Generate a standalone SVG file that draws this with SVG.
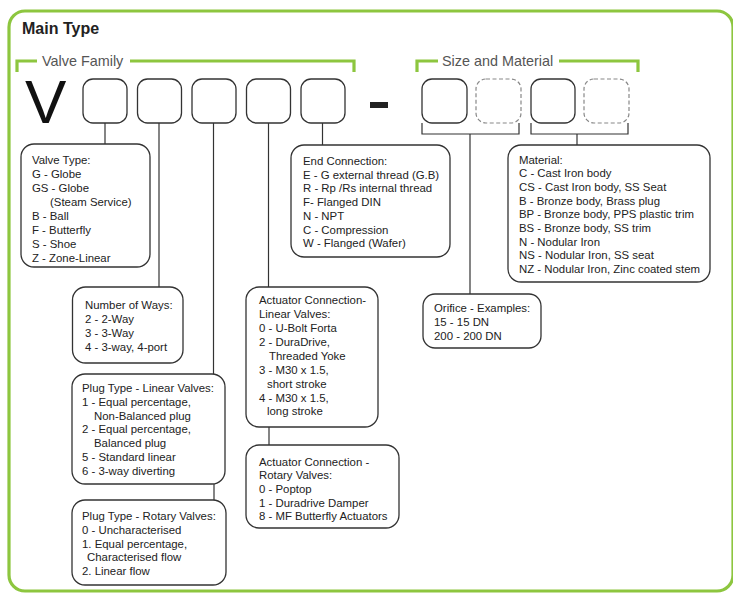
<svg xmlns="http://www.w3.org/2000/svg" width="733" height="594" viewBox="0 0 733 594">
<style>
.frame{fill:none;stroke:#8DC63F;stroke-width:3.2}
.gl{fill:none;stroke:#8DC63F;stroke-width:3.2}
.slot{fill:#fff;stroke:#333;stroke-width:1.3}
.dash{fill:#fff;stroke:#888;stroke-width:1.2;stroke-dasharray:4 2.5}
.box{fill:#fff;stroke:#333;stroke-width:1.3}
.ln{fill:none;stroke:#333;stroke-width:1.2}
text{font-family:"Liberation Sans",Arial,sans-serif;fill:#222}
.t{font-size:11.4px}
.fam{font-size:14.4px;fill:#555}
</style>
<rect class="frame" x="9" y="11" width="724" height="580" rx="16"/>
<text x="22" y="34" style="font-size:16px;font-weight:bold">Main Type</text>
<g id="valve-family-label">
<polyline class="gl" points="17,72 17,61 37,61"/>
<text class="fam" x="42" y="66">Valve Family</text>
<polyline class="gl" points="130,61 354,61 354,72"/>
</g>
<g id="size-material-label">
<polyline class="gl" points="417,72 417,61 438,61"/>
<text class="fam" x="442" y="66">Size and Material</text>
<polyline class="gl" points="559,61 638,61 638,72"/>
</g>
<text x="25" y="123" style="font-size:62px;fill:#111">V</text>
<rect x="370" y="102" width="18" height="6" fill="#222"/>
<g id="slots">
<rect id="s1" class="slot" x="83" y="79" width="44" height="44" rx="10"/>
<rect id="s2" class="slot" x="137.5" y="79" width="44" height="44" rx="10"/>
<rect id="s3" class="slot" x="192" y="79" width="44" height="44" rx="10"/>
<rect id="s4" class="slot" x="246.5" y="79" width="44" height="44" rx="10"/>
<rect id="s5" class="slot" x="301" y="79" width="44" height="44" rx="10"/>
<rect id="s6" class="slot" x="422" y="79" width="45" height="44" rx="10"/>
<rect id="s7" class="dash" x="476" y="79" width="45" height="44" rx="10"/>
<rect id="s8" class="slot" x="531" y="79" width="44" height="44" rx="10"/>
<rect id="s9" class="dash" x="584" y="79" width="45" height="44" rx="10"/>
</g>
<g id="connectors">
<line class="ln" x1="105" y1="123" x2="105" y2="144"/>
<line class="ln" x1="159" y1="123" x2="159" y2="287"/>
<line class="ln" x1="213.5" y1="123" x2="213.5" y2="374"/>
<line class="ln" x1="268.5" y1="123" x2="268.5" y2="287"/>
<line class="ln" x1="322.5" y1="123" x2="322.5" y2="145"/>
<line class="ln" x1="269" y1="427" x2="269" y2="445"/>
<line class="ln" x1="214" y1="484" x2="214" y2="500"/>
<polyline class="ln" points="422,123 422,134 519,134 519,123"/>
<polyline class="ln" points="531,123 531,134 628,134 628,123"/>
<line class="ln" x1="470" y1="134" x2="470" y2="294"/>
<line class="ln" x1="577" y1="134" x2="577" y2="145"/>
</g>
<g id="valve-type">
<rect class="box" x="21" y="144" width="129" height="123" rx="13"/>
<text class="t" x="32"><tspan x="32" y="164">Valve Type:</tspan><tspan x="32" y="178">G - Globe</tspan><tspan x="32" y="192">GS - Globe</tspan><tspan x="50" y="206">(Steam Service)</tspan><tspan x="32" y="220">B - Ball</tspan><tspan x="32" y="234">F - Butterfly</tspan><tspan x="32" y="248">S - Shoe</tspan><tspan x="32" y="262">Z - Zone-Linear</tspan></text>
</g>
<g id="end-connection">
<rect class="box" x="291" y="145" width="159" height="112" rx="13"/>
<text class="t"><tspan x="303" y="165">End Connection:</tspan><tspan x="303" y="178.7">E - G external thread (G.B)</tspan><tspan x="303" y="192.4">R - Rp /Rs internal thread</tspan><tspan x="303" y="206.1">F- Flanged DIN</tspan><tspan x="303" y="219.8">N - NPT</tspan><tspan x="303" y="233.5">C - Compression</tspan><tspan x="303" y="247.2">W - Flanged (Wafer)</tspan></text>
</g>
<g id="material">
<rect class="box" x="508" y="145" width="202" height="137" rx="13"/>
<text class="t"><tspan x="519" y="163.5">Material:</tspan><tspan x="519" y="177.2">C - Cast Iron body</tspan><tspan x="519" y="190.9">CS - Cast Iron body, SS Seat</tspan><tspan x="519" y="204.6">B - Bronze body, Brass plug</tspan><tspan x="519" y="218.3">BP - Bronze body, PPS plastic trim</tspan><tspan x="519" y="232">BS - Bronze body, SS trim</tspan><tspan x="519" y="245.7">N - Nodular Iron</tspan><tspan x="519" y="259.4">NS - Nodular Iron, SS seat</tspan><tspan x="519" y="273.1">NZ - Nodular Iron, Zinc coated stem</tspan></text>
</g>
<g id="number-of-ways">
<rect class="box" x="72.5" y="287" width="110.5" height="76" rx="13"/>
<text class="t"><tspan x="85" y="309">Number of Ways:</tspan><tspan x="85" y="323">2 - 2-Way</tspan><tspan x="85" y="337">3 - 3-Way</tspan><tspan x="85" y="351">4 - 3-way, 4-port</tspan></text>
</g>
<g id="actuator-linear">
<rect class="box" x="246" y="287" width="132" height="140" rx="13"/>
<text class="t"><tspan x="259" y="304">Actuator Connection-</tspan><tspan x="259" y="318">Linear Valves:</tspan><tspan x="259" y="332">0 - U-Bolt Forta</tspan><tspan x="259" y="346">2 - DuraDrive,</tspan><tspan x="269" y="360">Threaded Yoke</tspan><tspan x="259" y="374">3 - M30 x 1.5,</tspan><tspan x="267" y="387.5">short stroke</tspan><tspan x="259" y="401.5">4 - M30 x 1.5,</tspan><tspan x="267" y="415">long stroke</tspan></text>
</g>
<g id="orifice">
<rect class="box" x="423" y="294" width="118" height="54" rx="12"/>
<text class="t"><tspan x="434" y="312">Orifice - Examples:</tspan><tspan x="434" y="326">15 - 15 DN</tspan><tspan x="434" y="339.5">200 - 200 DN</tspan></text>
</g>
<g id="plug-linear">
<rect class="box" x="72" y="374" width="153" height="110" rx="13"/>
<text class="t"><tspan x="82" y="392">Plug Type - Linear Valves:</tspan><tspan x="82" y="405.5">1 - Equal percentage,</tspan><tspan x="94" y="419.5">Non-Balanced plug</tspan><tspan x="82" y="433">2 - Equal percentage,</tspan><tspan x="94" y="447">Balanced plug</tspan><tspan x="82" y="461">5 - Standard linear</tspan><tspan x="82" y="475">6 - 3-way diverting</tspan></text>
</g>
<g id="actuator-rotary">
<rect class="box" x="246" y="445" width="153" height="83" rx="13"/>
<text class="t"><tspan x="259" y="465.5">Actuator Connection -</tspan><tspan x="259" y="479">Rotary Valves:</tspan><tspan x="259" y="493">0 - Poptop</tspan><tspan x="259" y="506.5">1 - Duradrive Damper</tspan><tspan x="259" y="520">8 - MF Butterfly Actuators</tspan></text>
</g>
<g id="plug-rotary">
<rect class="box" x="72" y="500" width="154" height="85" rx="13"/>
<text class="t"><tspan x="82" y="520">Plug Type - Rotary Valves:</tspan><tspan x="82" y="533.5">0 - Uncharacterised</tspan><tspan x="82" y="547.5">1. Equal percentage,</tspan><tspan x="87" y="561">Characterised flow</tspan><tspan x="82" y="574.5">2. Linear flow</tspan></text>
</g>
</svg>
